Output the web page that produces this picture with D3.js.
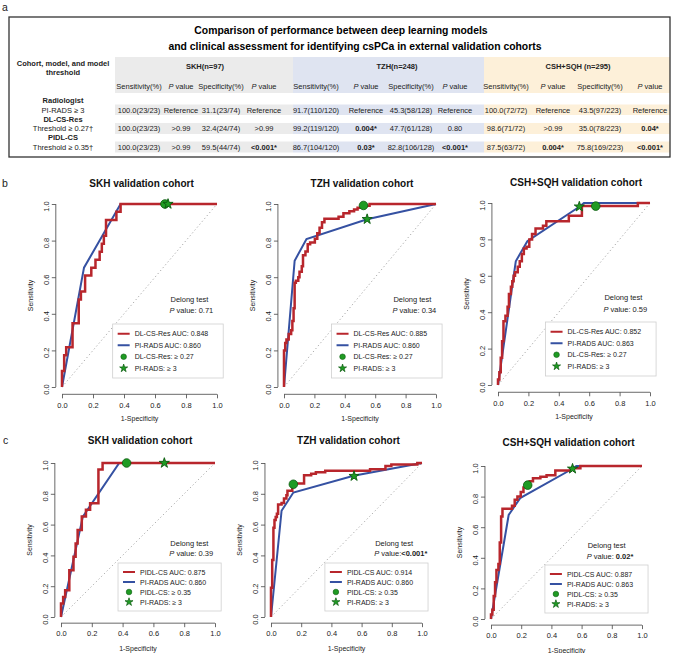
<!DOCTYPE html>
<html>
<head>
<meta charset="utf-8">
<script src="https://cdn.jsdelivr.net/npm/d3@7"></script>
<style>
  body { margin: 0; background: #fff; }
  svg { font-family: "Liberation Sans", Arial, sans-serif; }
</style>
</head>
<body>
<div id="fig"></div>
<script>
// ---------- table (panel a) ----------
var cohorts = ["SKH(n=97)", "TZH(n=248)", "CSH+SQH (n=295)"];
var subCols = ["Sensitivity(%)", "P value", "Specificity(%)", "P value"];
var rowLabels = ["Radiologist", "PI-RADS \u2265 3", "DL-CS-Res", "Threshold \u2265 0.27\u2020", "PIDL-CS", "Threshold \u2265 0.35\u2020"];
var skhVals = [
  ["100.0(23/23)", "Reference", "31.1(23/74)", "Reference"],
  ["100.0(23/23)", ">0.99", "32.4(24/74)", ">0.99"],
  ["100.0(23/23)", ">0.99", "59.5(44/74)", "<0.001*"]
];
var tzhVals = [
  ["91.7(110/120)", "Reference", "45.3(58/128)", "Reference"],
  ["99.2(119/120)", "0.004*", "47.7(61/128)", "0.80"],
  ["86.7(104/120)", "0.03*", "82.8(106/128)", "<0.001*"]
];
var cshVals = [
  ["100.0(72/72)", "Reference", "43.5(97/223)", "Reference"],
  ["98.6(71/72)", ">0.99", "35.0(78/223)", "0.04*"],
  ["87.5(63/72)", "0.004*", "75.8(169/223)", "<0.001*"]
];

// ---------- ROC curves (1-specificity, sensitivity) ----------
// step curves: at x the sensitivity rises to y
var dlSKH = [[0,0],[0,0.087],[0.014,0.174],[0.027,0.217],[0.068,0.348],[0.108,0.478],[0.122,0.522],[0.149,0.609],[0.189,0.652],[0.216,0.696],[0.243,0.739],[0.257,0.783],[0.270,0.826],[0.284,0.913],[0.351,0.957],[0.378,1],[1,1]];
var dlTZH = [[0,0],[0,0.2],[0.008,0.24],[0.016,0.26],[0.031,0.29],[0.047,0.31],[0.055,0.36],[0.063,0.43],[0.07,0.57],[0.078,0.58],[0.094,0.6],[0.102,0.63],[0.117,0.66],[0.125,0.72],[0.141,0.74],[0.156,0.78],[0.172,0.79],[0.203,0.81],[0.219,0.84],[0.234,0.87],[0.25,0.9],[0.266,0.92],[0.359,0.93],[0.391,0.95],[0.43,0.96],[0.461,0.97],[0.484,0.98],[0.508,0.99],[0.563,1],[1,1]];
var dlCSH = [[0,0],[0,0.03],[0.009,0.07],[0.018,0.15],[0.027,0.24],[0.036,0.35],[0.049,0.38],[0.063,0.43],[0.072,0.5],[0.085,0.54],[0.094,0.57],[0.103,0.6],[0.112,0.62],[0.13,0.65],[0.143,0.68],[0.157,0.72],[0.17,0.75],[0.188,0.76],[0.206,0.8],[0.224,0.83],[0.247,0.86],[0.296,0.875],[0.318,0.9],[0.466,0.93],[0.552,0.983],[0.92,1],[1,1]];
var pidlSKH = [[0,0],[0,0.087],[0.014,0.13],[0.027,0.174],[0.054,0.304],[0.081,0.391],[0.095,0.478],[0.108,0.565],[0.135,0.652],[0.162,0.696],[0.189,0.739],[0.243,0.957],[0.27,1],[1,1]];
var pidlTZH = [[0,0],[0,0.19],[0.008,0.37],[0.016,0.58],[0.023,0.63],[0.031,0.65],[0.039,0.67],[0.047,0.73],[0.07,0.74],[0.086,0.77],[0.102,0.79],[0.109,0.82],[0.141,0.867],[0.219,0.92],[0.266,0.93],[0.297,0.94],[0.359,0.95],[0.656,0.96],[0.758,0.98],[0.797,0.99],[0.969,1],[1,1]];
var pidlCSH = [[0,0],[0,0.03],[0.009,0.06],[0.018,0.15],[0.027,0.24],[0.036,0.32],[0.049,0.36],[0.058,0.5],[0.067,0.67],[0.076,0.72],[0.139,0.74],[0.157,0.78],[0.175,0.8],[0.197,0.83],[0.215,0.86],[0.238,0.875],[0.256,0.9],[0.278,0.92],[0.327,0.93],[0.368,0.94],[0.426,0.97],[0.529,0.986],[0.592,1],[1,1]];
// PI-RADS curves: straight segments
var piSKH = [[0,0],[0.142,0.652],[0.378,1],[0.689,1],[1,1]];
var piTZH = [[0,0],[0.07,0.69],[0.148,0.808],[0.547,0.917],[1,1]];
var piCSH = [[0,0],[0.117,0.68],[0.193,0.79],[0.54,0.982],[0.565,1],[1,1]];
// operating points [circle (model), star (PI-RADS >= 3)]
var ptsDL = [[[0.664,1],[0.684,1]], [[0.523,0.992],[0.547,0.917]], [[0.643,0.983],[0.535,0.98]]];
var ptsPIDL = [[[0.426,1],[0.671,1]], [[0.148,0.862],[0.55,0.915]], [[0.243,0.875],[0.54,0.982]]];
var aucDL = ["0.848", "0.885", "0.852"];
var aucPIDL = ["0.875", "0.914", "0.887"];
var aucPI = ["0.860", "0.860", "0.863"];
var delongDL = ["0.71", "0.34", "0.59"];
var delongPIDL = ["0.39", "<0.001*", "0.02*"];
var cohortNames = ["SKH validation cohort", "TZH validation cohort", "CSH+SQH validation cohort"];
var xTicks = [0, 0.2, 0.4, 0.6, 0.8, 1.0];

var svg = d3.select("#fig").append("svg")
    .attr("width", 677)
    .attr("height", 653);

var red = "#b8262c", blue = "#3551a2", green = "#1f9b23", greenDark = "#0c5a10", ink = "#222";

// ---------- panel a ----------
svg.append("text").attr("x", 2).attr("y", 11).attr("font-size", 10.5).attr("fill", ink).text("a");

var tbl = svg.append("g");
var bandX = [115, 293, 484, 670];
var bandColors = ["#ebebeb", "#dfe4f1", "#fdf0d9"];
var bandY = [[57, 93], [104.5, 115], [123, 134], [141.5, 152.5]];
bandColors.forEach(function(c, i) {
    bandY.forEach(function(b) {
        tbl.append("rect")
            .attr("x", bandX[i]).attr("y", b[0])
            .attr("width", bandX[i + 1] - bandX[i]).attr("height", b[1] - b[0])
            .attr("fill", c);
    });
});
tbl.append("rect")
    .attr("x", 9).attr("y", 17).attr("width", 661).attr("height", 140)
    .attr("fill", "none").attr("stroke", "#333").attr("stroke-width", 1.3);

tbl.append("text").attr("x", 341).attr("y", 30).attr("text-anchor", "middle")
    .attr("dominant-baseline", "central").attr("font-size", 10.4).attr("font-weight", "bold")
    .text("Comparison of performance between deep learning models");
tbl.append("text").attr("x", 355).attr("y", 46).attr("text-anchor", "middle")
    .attr("dominant-baseline", "central").attr("font-size", 10.4).attr("font-weight", "bold")
    .text("and clinical assessment for identifying csPCa in external  validation cohorts");

function cellText(x, y, s, bold) {
    var t = tbl.append("text").attr("x", x).attr("y", y)
        .attr("text-anchor", "middle").attr("dominant-baseline", "central")
        .attr("font-size", 7.5).attr("fill", ink);
    if (bold) t.attr("font-weight", "bold");
    if (s === "P value") {
        t.append("tspan").attr("font-style", "italic").text("P");
        t.append("tspan").text(" value");
    } else t.text(s);
    return t;
}
cellText(63, 63, "Cohort, model, and model", true);
cellText(63, 72, "threshold", true);

var colX = [[139, 181, 221, 264], [316, 366, 411, 455], [506, 553, 600, 650]];
var cohortX = [205, 397, 578];
var rowY = [100, 110, 119, 128.5, 137.5, 147];
var allVals = [skhVals, tzhVals, cshVals];

rowLabels.forEach(function(r, i) {
    cellText(63, rowY[i], r, i % 2 === 0);
});
cohorts.forEach(function(c, ci) {
    cellText(cohortX[ci], 66, c, true);
    subCols.forEach(function(s, si) { cellText(colX[ci][si], 86, s, false); });
    allVals[ci].forEach(function(row, ri) {
        row.forEach(function(v, vi) {
            cellText(colX[ci][vi], rowY[ri * 2 + 1], v, v.indexOf("*") >= 0);
        });
    });
});

// ---------- ROC panels b, c ----------
// b row images are a little taller than wide
var panels = [
    {x0: 62, x1: 217, y0: 204, y1: 387, tdy: 21, ls: 11.5, dl: 11, curve: dlSKH, pi: piSKH, pts: ptsDL[0], model: "DL-CS-Res", thr: "0.27", auc: aucDL[0], aucPi: aucPI[0], p: delongDL[0], dx: 0.70, i: 0},
    {x0: 284, x1: 436, y0: 204, y1: 387, tdy: 21, ls: 11.5, dl: 11, curve: dlTZH, pi: piTZH, pts: ptsDL[1], model: "DL-CS-Res", thr: "0.27", auc: aucDL[1], aucPi: aucPI[1], p: delongDL[1], dx: 0.72, i: 1},
    {x0: 498, x1: 650, y0: 203, y1: 385, tdy: 21, ls: 11.5, dl: 11, curve: dlCSH, pi: piCSH, pts: ptsDL[2], model: "DL-CS-Res", thr: "0.27", auc: aucDL[2], aucPi: aucPI[2], p: delongDL[2], dx: 0.70, i: 2},
    {x0: 61, x1: 215, y0: 463, y1: 617, tdy: 23, ls: 10, dl: 10, curve: pidlSKH, pi: piSKH, pts: ptsPIDL[0], model: "PIDL-CS", thr: "0.35", auc: aucPIDL[0], aucPi: aucPI[0], p: delongPIDL[0], dx: 0.71, i: 0},
    {x0: 271, x1: 422, y0: 463, y1: 617, tdy: 23, ls: 10, dl: 10, curve: pidlTZH, pi: piTZH, pts: ptsPIDL[1], model: "PIDL-CS", thr: "0.35", auc: aucPIDL[1], aucPi: aucPI[1], p: delongPIDL[1], dx: 0.69, i: 1},
    {x0: 491, x1: 642, y0: 466, y1: 619, tdy: 24, ls: 10, dl: 10, curve: pidlCSH, pi: piCSH, pts: ptsPIDL[2], model: "PIDL-CS", thr: "0.35", auc: aucPIDL[2], aucPi: aucPI[2], p: delongPIDL[2], dx: 0.64, i: 2}
];

svg.append("text").attr("x", 2).attr("y", 183).attr("dominant-baseline", "central").attr("font-size", 10.5).attr("fill", ink).text("b");
svg.append("text").attr("x", 3).attr("y", 440).attr("dominant-baseline", "central").attr("font-size", 10.5).attr("fill", ink).text("c");

panels.forEach(function(p) {
    var g = svg.append("g");
    var x = d3.scaleLinear().domain([0, 1]).range([p.x0, p.x1]);
    var y = d3.scaleLinear().domain([0, 1]).range([p.y1, p.y0]);
    var padX = (p.x1 - p.x0) * 0.04, padY = (p.y1 - p.y0) * 0.04;

    // axes (R style: line only over tick range, outward ticks)
    var xa = g.append("g").attr("transform", "translate(0," + (p.y1 + padY) + ")")
        .call(d3.axisBottom(x).tickValues(xTicks).tickFormat(d3.format(".1f")).tickSize(4).tickPadding(4));
    var ya = g.append("g").attr("transform", "translate(" + (p.x0 - padX) + ",0)")
        .call(d3.axisLeft(y).tickValues(xTicks).tickFormat(d3.format(".1f")).tickSize(4).tickPadding(5));
    [xa, ya].forEach(function(a) {
        a.select(".domain").remove();
        a.selectAll("line").attr("stroke", "#444").attr("stroke-width", 0.8);
        a.selectAll("text").attr("font-size", 7.5).attr("fill", ink).attr("font-family", null);
    });
    xa.append("line").attr("x1", x(0)).attr("x2", x(1)).attr("stroke", "#444").attr("stroke-width", 0.8);
    ya.append("line").attr("y1", y(0)).attr("y2", y(1)).attr("stroke", "#444").attr("stroke-width", 0.8);
    ya.selectAll(".tick text")
        .attr("transform", "rotate(-90,-9,0)")
        .attr("x", -11).attr("dy", "0.32em").attr("text-anchor", "middle");

    g.append("text").attr("x", (p.x0 + p.x1) / 2).attr("y", p.y1 + 31)
        .attr("text-anchor", "middle").attr("dominant-baseline", "central")
        .attr("font-size", 7).attr("fill", ink).text("1-Specificity");
    g.append("text")
        .attr("transform", "translate(" + (p.x0 - 32) + "," + ((p.y0 + p.y1) / 2) + ") rotate(-90)")
        .attr("text-anchor", "middle").attr("dominant-baseline", "central")
        .attr("font-size", 7).attr("fill", ink).text("Sensitivity");
    g.append("text").attr("x", (p.x0 + p.x1) / 2 + 2).attr("y", p.y0 - p.tdy)
        .attr("text-anchor", "middle").attr("dominant-baseline", "central")
        .attr("font-size", 10).attr("font-weight", "bold").attr("fill", "#111").text(cohortNames[p.i]);

    // chance diagonal
    g.append("line").attr("x1", x(0)).attr("y1", y(0)).attr("x2", x(1)).attr("y2", y(1))
        .attr("stroke", "#a8a8a8").attr("stroke-width", 1).attr("stroke-dasharray", "1.2,2.6");

    var stepLine = d3.line().x(function(d) { return x(d[0]); }).y(function(d) { return y(d[1]); })
        .curve(d3.curveStepAfter);
    var polyLine = d3.line().x(function(d) { return x(d[0]); }).y(function(d) { return y(d[1]); });
    g.append("path").attr("d", polyLine(p.pi)).attr("fill", "none")
        .attr("stroke", blue).attr("stroke-width", 2);
    g.append("path").attr("d", stepLine(p.curve)).attr("fill", "none")
        .attr("stroke", red).attr("stroke-width", 2.5);

    var star = d3.symbol().type(d3.symbolStar).size(32);
    g.append("circle").attr("cx", x(p.pts[0][0])).attr("cy", y(p.pts[0][1])).attr("r", 4.3)
        .attr("fill", green).attr("stroke", greenDark).attr("stroke-width", 0.8);
    g.append("path").attr("d", star())
        .attr("transform", "translate(" + x(p.pts[1][0]) + "," + y(p.pts[1][1]) + ")")
        .attr("fill", green).attr("stroke", greenDark).attr("stroke-width", 0.9);

    // Delong test text
    var ty = y(0.48);
    g.append("text").attr("x", x(p.dx)).attr("y", ty).attr("dominant-baseline", "central")
        .attr("font-size", 7.5).attr("fill", ink).text("Delong test");
    var pt = g.append("text").attr("x", x(p.dx) - 1).attr("y", ty + p.dl).attr("dominant-baseline", "central")
        .attr("font-size", 7.5).attr("fill", ink);
    pt.append("tspan").attr("font-style", "italic").text("P");
    if (p.p.indexOf("*") >= 0) {
        pt.append("tspan").text(p.p.charAt(0) === "<" ? " value:" : " value: ");
        pt.append("tspan").attr("font-weight", "bold").text(p.p);
    } else {
        pt.append("tspan").text(" value: " + p.p);
    }

    // legend
    var entries = [
        {type: "line", color: red, label: p.model + " AUC: " + p.auc},
        {type: "line", color: blue, label: "PI-RADS AUC: " + p.aucPi},
        {type: "circle", label: p.model + ": \u2265 " + p.thr},
        {type: "star", label: "PI-RADS: \u2265 3"}
    ];
    var lg = g.append("g");
    var rows = lg.selectAll("text").data(entries).enter().append("text")
        .attr("font-size", 7).attr("fill", ink).attr("dominant-baseline", "central")
        .text(function(d) { return d.label; });
    var maxW = d3.max(rows.nodes(), function(n) { return n.getComputedTextLength(); });
    var bw = maxW + 37, bh = p.ls * 4 + 8;
    var bx = p.x1 + padX - bw, by = p.y1 - (p.ls > 10 ? 9 : 6) - bh;
    lg.insert("rect", "text").attr("x", bx).attr("y", by).attr("width", bw).attr("height", bh)
        .attr("fill", "#fff").attr("stroke", "#cfcfcf").attr("stroke-width", 0.8);
    rows.attr("x", bx + 22).attr("y", function(d, i) { return by + 4 + p.ls * (i + 0.5); });
    entries.forEach(function(d, i) {
        var cy = by + 4 + p.ls * (i + 0.5), cx = bx + 11;
        if (d.type === "line") {
            lg.append("line").attr("x1", cx - 6).attr("x2", cx + 6).attr("y1", cy).attr("y2", cy)
                .attr("stroke", d.color).attr("stroke-width", 2);
        } else if (d.type === "circle") {
            lg.append("circle").attr("cx", cx).attr("cy", cy).attr("r", 2.8)
                .attr("fill", green).attr("stroke", greenDark).attr("stroke-width", 0.6);
        } else {
            lg.append("path").attr("d", d3.symbol().type(d3.symbolStar).size(20)())
                .attr("transform", "translate(" + cx + "," + cy + ")")
                .attr("fill", green).attr("stroke", greenDark).attr("stroke-width", 0.7);
        }
    });
});
</script>
</body>
</html>
